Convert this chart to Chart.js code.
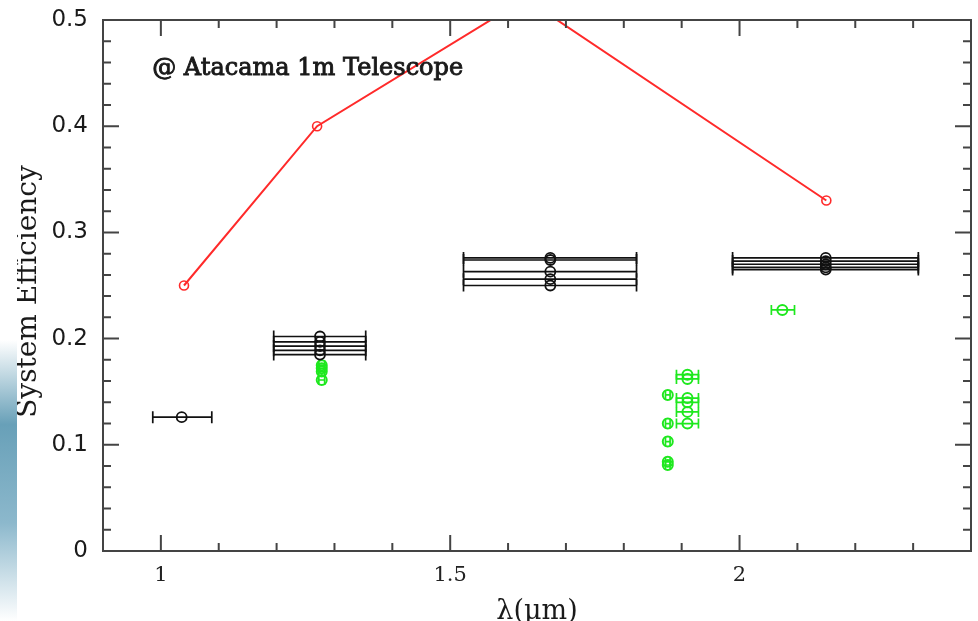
<!DOCTYPE html>
<html>
<head>
<meta charset="utf-8">
<script src="https://cdn.jsdelivr.net/npm/chart.js@4"></script>
<style>
  html, body { margin: 0; padding: 0; background: #fff; }
  #wrap { width: 978px; height: 621px; position: relative; }
</style>
</head>
<body>
<div id="wrap"><canvas id="chart"></canvas></div>
<script>
// red model curve
const redX = [1.04, 1.27, 1.63, 2.15];
const redY = [0.25, 0.40, 0.52, 0.33];

// black measurements (J, H, K bands) with x error ranges
const blackX = [1.036, 1.275, 1.275, 1.275, 1.275, 1.275, 1.673, 1.673, 1.673, 1.673, 1.673, 2.149, 2.149, 2.149, 2.149, 2.149];
const blackY = [0.126, 0.202, 0.197, 0.193, 0.189, 0.185, 0.276, 0.274, 0.263, 0.256, 0.250, 0.276, 0.273, 0.270, 0.267, 0.265];
const blackXLow = [0.986, 1.195, 1.195, 1.195, 1.195, 1.195, 1.523, 1.523, 1.523, 1.523, 1.523, 1.988, 1.988, 1.988, 1.988, 1.988];
const blackXHigh = [1.088, 1.354, 1.354, 1.354, 1.354, 1.354, 1.822, 1.822, 1.822, 1.822, 1.822, 2.309, 2.309, 2.309, 2.309, 2.309];

// green measurements
const greenX = [1.278, 1.278, 1.278, 1.278, 1.876, 1.876, 1.876, 1.876, 1.876, 1.910, 1.910, 1.910, 1.910, 1.910, 1.910, 2.074];
const greenY = [0.175, 0.172, 0.169, 0.161, 0.147, 0.120, 0.103, 0.084, 0.081, 0.166, 0.162, 0.144, 0.140, 0.131, 0.120, 0.227];
const greenXLow = [1.273, 1.273, 1.273, 1.273, 1.872, 1.872, 1.872, 1.872, 1.872, 1.891, 1.891, 1.891, 1.891, 1.891, 1.891, 2.055];
const greenXHigh = [1.283, 1.283, 1.283, 1.283, 1.880, 1.880, 1.880, 1.880, 1.880, 1.929, 1.929, 1.929, 1.929, 1.929, 1.929, 2.095];

// axes
const xMin = 0.9, xMax = 2.4, xStep = 0.1;
const yMin = 0, yMax = 0.5, yStep = 0.02;
const xLabels = [1, 1.5, 2];
const yLabels = [0, 0.1, 0.2, 0.3, 0.4, 0.5];

const xTitle = 'λ(μm)';
const yTitle = 'System Efficiency';
const note = '@ Atacama 1m Telescope';

const isLabel = (v, list) => list.some(l => Math.abs(l - v) < 1e-6);
const pts = (xs, ys) => xs.map((x, i) => ({ x: x, y: ys[i] }));

// error bars, drawn before the markers
const errorBars = {
  id: 'errorBars',
  beforeDatasetsDraw(chart) {
    const { ctx, scales: { x, y } } = chart;
    ctx.save();
    ctx.beginPath();
    ctx.rect(chart.chartArea.left, chart.chartArea.top, chart.chartArea.width, chart.chartArea.height);
    ctx.clip();
    chart.data.datasets.forEach(ds => {
      if (!ds.xerr) return;
      ctx.strokeStyle = ds.borderColor;
      ctx.lineWidth = ds.errWidth;
      ds.data.forEach((p, i) => {
        const py = y.getPixelForValue(p.y);
        const x0 = x.getPixelForValue(ds.xerr.low[i]);
        const x1 = x.getPixelForValue(ds.xerr.high[i]);
        const c = ds.capSize;
        ctx.beginPath();
        ctx.moveTo(x0, py); ctx.lineTo(x1, py);
        ctx.moveTo(x0, py - c); ctx.lineTo(x0, py + c);
        ctx.moveTo(x1, py - c); ctx.lineTo(x1, py + c);
        ctx.stroke();
      });
    });
    ctx.restore();
  }
};

// frame with inward ticks on all four sides, titles, annotation, side strip
const frame = {
  id: 'frame',
  afterDraw(chart) {
    const { ctx, chartArea: a, scales: { x, y } } = chart;
    ctx.save();
    ctx.strokeStyle = '#444';
    ctx.lineWidth = 2;
    ctx.strokeRect(a.left, a.top, a.right - a.left, a.bottom - a.top);
    ctx.beginPath();
    x.ticks.forEach(t => {
      const px = x.getPixelForValue(t.value);
      const len = isLabel(t.value, xLabels) ? 16 : 8;
      ctx.moveTo(px, a.bottom); ctx.lineTo(px, a.bottom - len);
      ctx.moveTo(px, a.top); ctx.lineTo(px, a.top + len);
    });
    y.ticks.forEach(t => {
      const py = y.getPixelForValue(t.value);
      const len = isLabel(t.value, yLabels) ? 16 : 8;
      ctx.moveTo(a.left, py); ctx.lineTo(a.left + len, py);
      ctx.moveTo(a.right, py); ctx.lineTo(a.right - len, py);
    });
    ctx.stroke();

    ctx.fillStyle = '#1a1a1a';
    ctx.strokeStyle = '#1a1a1a';
    ctx.textBaseline = 'alphabetic';

    // x title
    ctx.font = '27px "DejaVu Serif"';
    ctx.textAlign = 'center';
    ctx.fillText(xTitle, (a.left + a.right) / 2, 619);

    // y title
    ctx.save();
    ctx.translate(36, (a.top + a.bottom) / 2 + 6);
    ctx.rotate(-Math.PI / 2);
    ctx.font = '28px "DejaVu Serif"';
    ctx.fillText(yTitle, 0, 0);
    ctx.restore();

    // annotation
    ctx.save();
    ctx.textAlign = 'left';
    ctx.translate(x.getPixelForValue(0.985), y.getPixelForValue(0.448));
    ctx.font = '24px "DejaVu Serif"';
    const w = ctx.measureText(note).width;
    ctx.scale(311 / w, 1);
    ctx.lineWidth = 0.9;
    ctx.fillText(note, 0, 0);
    ctx.strokeText(note, 0, 0);
    ctx.restore();

    // slide edge on the left
    ctx.fillStyle = '#fff';
    ctx.fillRect(0, 0, 17, 621);
    const g = ctx.createLinearGradient(0, 340, 0, 621);
    g.addColorStop(0, 'rgba(255,255,255,1)');
    g.addColorStop(0.3, 'rgba(104,160,184,1)');
    g.addColorStop(0.65, 'rgba(140,184,204,1)');
    g.addColorStop(1, 'rgba(255,255,255,1)');
    ctx.fillStyle = g;
    ctx.fillRect(0, 340, 17, 281);
    ctx.restore();
  }
};

new Chart(document.getElementById('chart'), {
  type: 'scatter',
  data: {
    datasets: [
      {
        label: 'model',
        data: pts(redX, redY),
        showLine: true,
        borderColor: '#ff2a2a',
        borderWidth: 2,
        pointRadius: 4.5,
        pointBorderWidth: 1.6,
        pointBackgroundColor: 'rgba(0,0,0,0)',
        pointBorderColor: '#ff2a2a'
      },
      {
        label: 'black',
        data: pts(blackX, blackY),
        borderColor: '#111',
        pointRadius: 5,
        pointBorderWidth: 1.8,
        pointBackgroundColor: 'rgba(0,0,0,0)',
        xerr: { low: blackXLow, high: blackXHigh },
        errWidth: 1.7,
        capSize: 6
      },
      {
        label: 'green',
        data: pts(greenX, greenY),
        borderColor: '#1ee81e',
        pointRadius: 5,
        pointBorderWidth: 2,
        pointBackgroundColor: 'rgba(0,0,0,0)',
        xerr: { low: greenXLow, high: greenXHigh },
        errWidth: 1.7,
        capSize: 5
      }
    ]
  },
  options: {
    responsive: true,
    maintainAspectRatio: false,
    animation: false,
    layout: { padding: { top: 20, right: 6, left: 0, bottom: 0 } },
    plugins: { legend: { display: false }, tooltip: { enabled: false } },
    scales: {
      x: {
        type: 'linear',
        min: xMin, max: xMax,
        grid: { display: false, drawTicks: false },
        border: { display: false },
        afterFit: s => { s.height = 70; s.paddingLeft = 0; s.paddingRight = 0; },
        ticks: {
          stepSize: xStep,
          autoSkip: false,
          maxRotation: 0,
          padding: 12,
          color: '#222',
          font: { family: '"DejaVu Serif"', size: 21 },
          callback: v => isLabel(v, xLabels) ? String(Math.round(v * 10) / 10) : ''
        }
      },
      y: {
        type: 'linear',
        min: yMin, max: yMax,
        grid: { display: false, drawTicks: false },
        border: { display: false },
        afterFit: s => { s.width = 103; s.paddingTop = 0; s.paddingBottom = 0; },
        ticks: {
          stepSize: yStep,
          autoSkip: false,
          padding: 15,
          color: '#1a1a1a',
          font: { family: '"DejaVu Sans"', size: 23 },
          callback: v => isLabel(v, yLabels) ? (Math.abs(v) < 1e-6 ? '0' : v.toFixed(1)) : ''
        }
      }
    }
  },
  plugins: [errorBars, frame]
});
</script>
</body>
</html>
